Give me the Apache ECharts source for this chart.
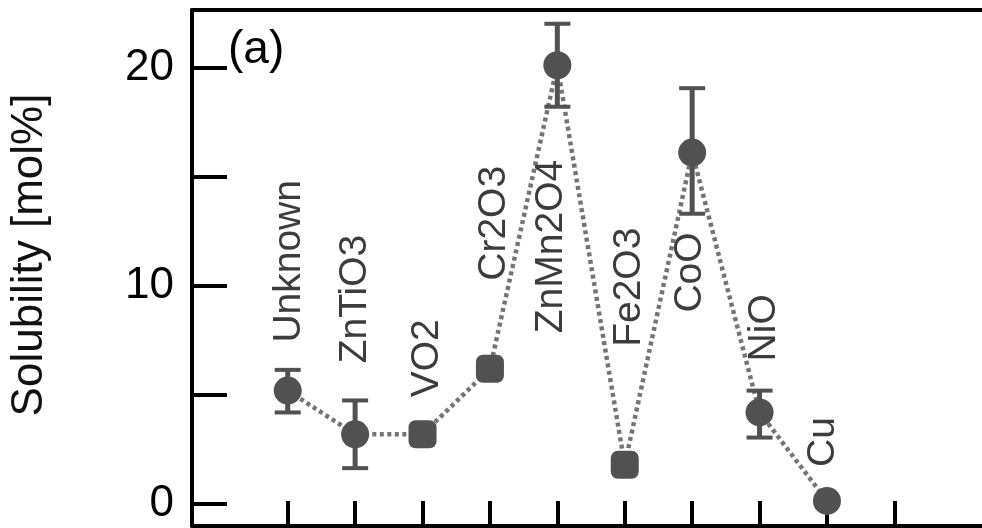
<!DOCTYPE html>
<html>
<head>
<meta charset="utf-8">
<script src="https://cdn.jsdelivr.net/npm/echarts@6/dist/echarts.min.js"></script>
<style>
  html, body { margin: 0; padding: 0; background: #fff; }
  #chart { width: 982px; height: 528px; }
</style>
</head>
<body>
<div id="chart"></div>
<script>
// ---- data ----
const categories = ['Unknown', 'ZnTiO3', 'VO2', 'Cr2O3', 'ZnMn2O4', 'Fe2O3', 'CoO', 'NiO', 'Cu'];
const solubility = [5.2, 3.2, 3.2, 6.2, 20.1, 1.8, 16.1, 4.2, 0.15];
const errLow  = [4.2, 1.65, null, null, 18.2, null, 13.3, 3.05, null];
const errHigh = [6.15, 4.75, null, null, 22.0, null, 19.05, 5.2, null];
const xTickValues = [1, 2, 3, 4, 5, 6, 7, 8, 9, 10];
const yTickValues = [0, 5, 10, 15, 20];
const yLabelValues = [0, 10, 20];
const yAxisTitle = 'Solubility [mol%]';
const panelLabel = '(a)';

// ---- style / layout ----
const squareCats = ['VO2', 'Cr2O3', 'Fe2O3'];
const labelRise = [48, 71, 37, 88, -268, 118, -160, 51, 34];   // px from point centre to text start
const labelShiftX = [2, 0, 5, 4, -6, 5, -2, 5, -4];             // px
const markColor = '#515151';
const FONT = '"Liberation Sans", Arial, Helvetica, sans-serif';

const points = categories.map((c, i) => ({
  value: [i + 1, solubility[i]],
  symbol: squareCats.includes(c) ? 'roundRect' : 'circle'
}));
const errData = [];
categories.forEach((c, i) => {
  if (errLow[i] != null) errData.push([i + 1, errLow[i], errHigh[i]]);
});
const labelData = categories.map((c, i) => [i + 1, solubility[i], i]);

const axisLineStyle = { color: '#000', width: 4 };

const chart = echarts.init(document.getElementById('chart'), null, { renderer: 'canvas' });
chart.setOption({
  animation: false,
  backgroundColor: '#fff',
  grid: { left: 190, top: 10, right: 0, bottom: 2 },
  xAxis: [{
    type: 'value', min: -0.42, max: 11.30,
    axisLine: { show: true, onZero: false, lineStyle: axisLineStyle },
    axisTick: { show: true, inside: true, length: 25, customValues: xTickValues,
                lineStyle: { color: '#000', width: 4 } },
    axisLabel: { show: false },
    splitLine: { show: false }
  }, {
    type: 'value', position: 'top', min: -0.42, max: 11.30,
    axisLine: { show: true, onZero: false, lineStyle: axisLineStyle },
    axisTick: { show: false },
    axisLabel: { show: false },
    splitLine: { show: false }
  }],
  yAxis: {
    type: 'value', min: -1, max: 22.63,
    name: yAxisTitle, nameLocation: 'middle', nameGap: 140,
    nameTextStyle: { fontFamily: FONT, fontSize: 44, color: '#111', padding: [0, 0, 0, 26] },
    axisLine: { show: true, onZero: false, lineStyle: axisLineStyle },
    axisTick: { show: true, inside: true, length: 35, customValues: yTickValues,
                lineStyle: { color: '#000', width: 4 } },
    axisLabel: { show: true, customValues: yLabelValues, margin: 18,
                 fontFamily: FONT, fontSize: 44, color: '#000' },
    splitLine: { show: false }
  },
  graphic: [{
    type: 'text', left: 228, top: 27,
    style: { text: panelLabel, fontFamily: FONT, fontSize: 46, fill: '#000' }
  }],
  series: [
    {
      type: 'line',
      data: points,
      symbolSize: 28,
      z: 3,
      itemStyle: { color: markColor },
      lineStyle: { color: '#747474', width: 4.5, type: [4, 3.5] }
    },
    {
      type: 'custom',
      data: errData,
      z: 4,
      renderItem: function (params, api) {
        const x = api.value(0);
        const lo = api.coord([x, api.value(1)]);
        const hi = api.coord([x, api.value(2)]);
        const hw = 13;
        return {
          type: 'group',
          children: [
            { type: 'line', shape: { x1: lo[0], y1: lo[1], x2: hi[0], y2: hi[1] }, style: { stroke: markColor, lineWidth: 5 } },
            { type: 'line', shape: { x1: lo[0] - hw, y1: lo[1], x2: lo[0] + hw, y2: lo[1] }, style: { stroke: markColor, lineWidth: 4 } },
            { type: 'line', shape: { x1: hi[0] - hw, y1: hi[1], x2: hi[0] + hw, y2: hi[1] }, style: { stroke: markColor, lineWidth: 4 } }
          ]
        };
      }
    },
    {
      type: 'custom',
      data: labelData,
      z: 5,
      renderItem: function (params, api) {
        const i = api.value(2);
        const p = api.coord([api.value(0), api.value(1)]);
        return {
          type: 'text',
          x: p[0] + labelShiftX[i],
          y: p[1] - labelRise[i],
          rotation: Math.PI / 2,
          style: {
            text: categories[i],
            fontFamily: FONT, fontSize: 39, fill: '#3c3c3c',
            align: 'left', verticalAlign: 'middle'
          }
        };
      }
    }
  ]
});
</script>
</body>
</html>
